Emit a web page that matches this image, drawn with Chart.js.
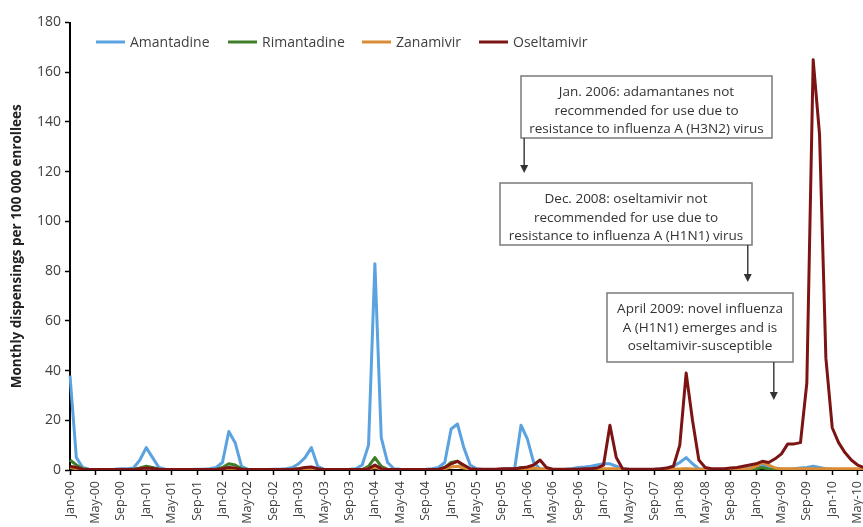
<!DOCTYPE html>
<html>
<head>
<meta charset="utf-8">
<script src="https://cdn.jsdelivr.net/npm/chart.js@4.4.1/dist/chart.umd.min.js"></script>
<style>
html,body{margin:0;padding:0;background:#fff;overflow:hidden;}
#wrap{width:864px;height:527px;}
</style>
</head>
<body>
<div id="wrap"><canvas id="grafico"></canvas></div>
<script>
// Meses Jan-00 .. Jun-10
const anos = ["00","01","02","03","04","05","06","07","08","09","10"];
const meses = ["Jan","Feb","Mar","Apr","May","Jun","Jul","Aug","Sep","Oct","Nov","Dec"];
const categorias = [];
anos.forEach(a => meses.forEach(m => categorias.push(m + "-" + a)));
categorias.length = 126;

const amantadine = [
  38,5,1,0.3,0.2,0.2,0.2,0.3,0.5,0.5,0.8,4,
  9,5,1,0.3,0.2,0.2,0.2,0.2,0.3,0.3,0.5,1,
  3,15.5,11,1.5,0.3,0.2,0.2,0.2,0.3,0.3,0.5,1,
  2.5,5,9,1.5,0.3,0.2,0.2,0.2,0.3,0.5,2,10,
  83,13,3,0.5,0.3,0.2,0.2,0.2,0.3,0.5,1,3,
  16.5,18.5,9,2,0.5,0.2,0.2,0.2,0.3,0.5,0.5,18,
  12.5,3,0.5,0.3,0.2,0.2,0.3,0.5,1,1.2,1.5,2,
  2.5,2.5,1.5,0.5,0.3,0.2,0.2,0.2,0.3,0.5,0.8,1.5,
  3,5,2.5,0.5,0.3,0.2,0.2,0.2,0.3,0.3,0.5,0.8,
  1.5,2,1,0.5,0.3,0.3,0.5,0.8,1,1.5,1,0.5,
  0.3,0.2,0.2,0.2,0.2,0.2
];
const rimantadine = [
  4,2,0.5,0.2,0.2,0.2,0.2,0.2,0.2,0.2,0.2,0.8,
  1.5,1,0.3,0.2,0.2,0.2,0.2,0.2,0.2,0.2,0.2,0.2,
  1,2.5,2,0.5,0.2,0.2,0.2,0.2,0.2,0.2,0.2,0.2,
  0.5,0.8,1,0.3,0.2,0.2,0.2,0.2,0.2,0.2,0.2,1.5,
  5,1.5,0.3,0.2,0.2,0.2,0.2,0.2,0.2,0.2,0.2,1,
  3,3.5,1.5,0.3,0.2,0.2,0.2,0.2,0.2,0.2,0.3,1,
  0.8,0.3,0.2,0.2,0.2,0.2,0.2,0.2,0.2,0.2,0.2,0.2,
  0.2,0.2,0.2,0.2,0.2,0.2,0.2,0.2,0.2,0.2,0.2,0.2,
  0.2,0.3,0.2,0.2,0.2,0.2,0.2,0.2,0.2,0.2,0.2,0.2,
  0.5,1,0.3,0.2,0.2,0.2,0.2,0.2,0.2,0.2,0.2,0.2,
  0.2,0.2,0.2,0.2,0.2,0.2
];
const zanamivir = [
  1,0.5,0.2,0.2,0.2,0.2,0.2,0.2,0.2,0.2,0.2,0.3,
  0.5,0.3,0.2,0.2,0.2,0.2,0.2,0.2,0.2,0.2,0.2,0.2,
  0.3,0.5,0.4,0.2,0.2,0.2,0.2,0.2,0.2,0.2,0.2,0.2,
  0.3,0.4,0.5,0.2,0.2,0.2,0.2,0.2,0.2,0.2,0.2,0.5,
  1,0.5,0.2,0.2,0.2,0.2,0.2,0.2,0.2,0.2,0.2,0.5,
  1.2,1.5,0.8,0.3,0.2,0.2,0.2,0.2,0.2,0.2,0.2,0.3,
  0.5,0.8,0.5,0.3,0.2,0.2,0.2,0.2,0.2,0.2,0.3,0.4,
  0.5,0.5,0.5,0.3,0.2,0.2,0.2,0.2,0.2,0.2,0.3,0.4,
  0.4,0.5,0.4,0.3,0.2,0.2,0.2,0.2,0.2,0.3,0.4,0.5,
  1.5,3,2,0.8,0.5,0.5,0.5,0.5,0.5,0.5,0.5,0.5,
  0.5,0.5,0.5,0.5,0.5,0.5
];
const oseltamivir = [
  1.5,1,0.3,0.2,0.2,0.2,0.2,0.2,0.2,0.2,0.2,0.5,
  0.8,0.6,0.3,0.2,0.2,0.2,0.2,0.2,0.2,0.2,0.2,0.2,
  0.5,1,0.8,0.3,0.2,0.2,0.2,0.2,0.2,0.2,0.2,0.2,
  0.5,1,1.2,0.5,0.2,0.2,0.2,0.2,0.2,0.2,0.2,0.5,
  2,0.5,0.2,0.2,0.2,0.2,0.2,0.2,0.2,0.2,0.2,1,
  2.5,3.5,2,0.5,0.3,0.3,0.3,0.3,0.5,0.5,0.5,0.8,
  1.2,2,4,1,0.3,0.3,0.3,0.3,0.3,0.5,0.5,0.8,
  2,18,5,0.5,0.3,0.3,0.3,0.3,0.3,0.5,0.8,1.5,
  10,39,20,4,1,0.5,0.5,0.5,0.8,1,1.5,2,
  2.5,3.5,3,4.5,6.5,10.5,10.5,11,35,165,135,45,
  17,11,7,4,2,1
];

const series = [
  {label:"Amantadine", data:amantadine, cor:"#5ba3e0", ordem:3},
  {label:"Rimantadine", data:rimantadine, cor:"#3f7f2a", ordem:2},
  {label:"Zanamivir", data:zanamivir, cor:"#d98b35", ordem:1},
  {label:"Oseltamivir", data:oseltamivir, cor:"#7d1414", ordem:0}
];

// Caixas de texto (pixels) e setas (posição em meses)
const notas = [
  {caixa:[521,76,251,62], linhas:["Jan. 2006: adamantanes not","recommended for use due to","resistance to influenza A (H3N2) virus"], seta:71.5, fim:173},
  {caixa:[500,183,252,62], linhas:["Dec. 2008: oseltamivir not","recommended for use due to","resistance to influenza A (H1N1) virus"], seta:106.7, fim:282},
  {caixa:[607,293,186,69], linhas:["April 2009: novel influenza","A (H1N1) emerges and is","oseltamivir-susceptible"], seta:110.8, fim:400}
];
const legendaX = [96,228,362,479];

const fonte = '"Open Sans", "Liberation Sans", sans-serif';

const legendaPlugin = {
  id:"legendaManual",
  afterDraw(chart){
    const c = chart.ctx;
    chart.data.datasets.forEach((ds,k)=>{
      const x = legendaX[k], y = 42;
      c.save();
      c.strokeStyle = ds.borderColor; c.lineWidth = 3;
      c.beginPath(); c.moveTo(x,y); c.lineTo(x+29,y); c.stroke();
      c.fillStyle = "#404040"; c.font = "14px " + fonte; c.textBaseline = "middle";
      c.fillText(ds.label, x+34, y+1);
      c.restore();
    });
  }
};

const notasPlugin = {
  id:"notas",
  afterDatasetsDraw(chart){
    const c = chart.ctx, xs = chart.scales.x;
    notas.forEach(n=>{
      const [bx,by,bw,bh] = n.caixa;
      c.save();
      c.fillStyle = "#fff"; c.fillRect(bx,by,bw,bh);
      c.strokeStyle = "#7a7a7a"; c.lineWidth = 1.5; c.strokeRect(bx,by,bw,bh);
      c.fillStyle = "#333"; c.font = "13.5px " + fonte;
      c.textAlign = "center"; c.textBaseline = "middle";
      n.linhas.forEach((t,j)=>c.fillText(t, bx+bw/2, by+16.5+j*18.3));
      const ax = xs.getPixelForValue(n.seta);
      c.strokeStyle = "#404040"; c.lineWidth = 1.5;
      c.beginPath(); c.moveTo(ax,by+bh); c.lineTo(ax,n.fim-6); c.stroke();
      c.fillStyle = "#333";
      c.beginPath(); c.moveTo(ax-4,n.fim-8); c.lineTo(ax+4,n.fim-8); c.lineTo(ax,n.fim); c.closePath(); c.fill();
      c.restore();
    });
  }
};

new Chart(document.getElementById("grafico"),{
  type:"line",
  data:{
    labels:categorias,
    datasets:series.map(s=>({label:s.label,data:s.data,borderColor:s.cor,backgroundColor:s.cor,
      borderWidth:3,pointRadius:0,tension:0,borderJoinStyle:"round",order:s.ordem}))
  },
  options:{
    responsive:true,maintainAspectRatio:false,animation:false,
    layout:{padding:{top:22.5,left:0,right:0,bottom:0}},
    plugins:{legend:{display:false},tooltip:{enabled:false}},
    scales:{
      x:{
        grid:{display:true,drawOnChartArea:false,tickLength:5,tickWidth:1.5,
          tickColor:ctx=>ctx.index%4===0?"#000":"rgba(0,0,0,0)"},
        border:{display:true,color:"#000",width:2},
        ticks:{autoSkip:false,minRotation:90,maxRotation:90,padding:6,color:"#404040",
          font:{size:12.5,family:fonte},
          callback:function(v,i){return i%4===0?this.getLabelForValue(v):"";}},
        afterFit(s){s.height=57;s.paddingLeft=0;s.paddingRight=0;}
      },
      y:{
        min:0,max:180,
        grid:{display:true,drawOnChartArea:false,tickLength:5,tickWidth:1.5,tickColor:"#000"},
        border:{display:true,color:"#000",width:2},
        ticks:{stepSize:20,padding:4,color:"#404040",font:{size:14,family:fonte}},
        title:{display:true,text:"Monthly dispensings per 100 000 enrollees",color:"#222",
          font:{size:13.5,weight:"bold",family:fonte},padding:{top:9,bottom:0}},
        afterFit(s){s.width=70;s.paddingTop=0;s.paddingBottom=0;}
      }
    }
  },
  plugins:[legendaPlugin,notasPlugin]
});
</script>
</body>
</html>
